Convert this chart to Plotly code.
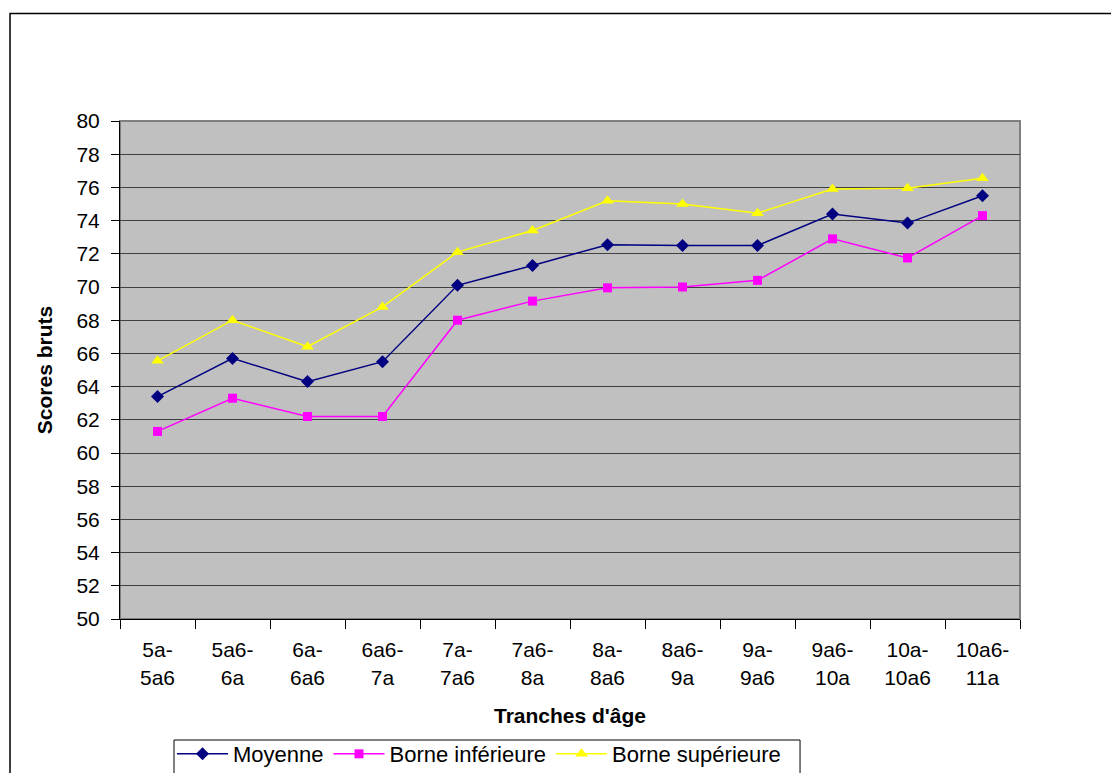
import plotly.graph_objects as go

categories = ["5a-<br>5a6", "5a6-<br>6a", "6a-<br>6a6", "6a6-<br>7a", "7a-<br>7a6", "7a6-<br>8a",
              "8a-<br>8a6", "8a6-<br>9a", "9a-<br>9a6", "9a6-<br>10a", "10a-<br>10a6", "10a6-<br>11a"]
moyenne = [63.4, 65.7, 64.3, 65.5, 70.1, 71.3, 72.55, 72.5, 72.5, 74.4, 73.85, 75.5]
borne_inf = [61.3, 63.3, 62.2, 62.2, 68.0, 69.15, 69.95, 70.0, 70.4, 72.9, 71.75, 74.3]
borne_sup = [65.55, 68.0, 66.4, 68.8, 72.1, 73.4, 75.2, 75.0, 74.45, 75.9, 75.95, 76.55]
y_ticks = list(range(50, 81, 2))

font = "Liberation Sans, Arial, sans-serif"
fig = go.Figure()
fig.add_trace(go.Scatter(x=categories, y=moyenne, name="Moyenne", mode="lines+markers",
                         line=dict(color="#000080", width=1.5),
                         marker=dict(symbol="diamond", size=10, color="#000080")))
fig.add_trace(go.Scatter(x=categories, y=borne_inf, name="Borne inférieure", mode="lines+markers",
                         line=dict(color="#FF00FF", width=1.5),
                         marker=dict(symbol="square", size=9, color="#FF00FF")))
fig.add_trace(go.Scatter(x=categories, y=borne_sup, name="Borne supérieure", mode="lines+markers",
                         line=dict(color="#FFFF00", width=1.5),
                         marker=dict(symbol="triangle-up", size=11, color="#FFFF00")))

fig.update_layout(
    width=1111, height=773,
    margin=dict(l=120, r=91, t=121, b=154, autoexpand=False),
    paper_bgcolor="white", plot_bgcolor="#C0C0C0",
    font=dict(family=font, size=21, color="black"),
    showlegend=True,
    legend=dict(orientation="h", xref="container", yref="container",
                x=0.1548, y=0.0517, xanchor="left", yanchor="top",
                borderwidth=0, bgcolor="rgba(0,0,0,0)",
                font=dict(family=font, size=22), itemwidth=51, tracegroupgap=0),
    xaxis=dict(type="category", range=[-0.5, 11.5], showgrid=False, ticks="outside",
               tickson="boundaries", ticklen=9, tickcolor="black", showline=True,
               linecolor="black", linewidth=1, mirror=False, automargin=False,
               tickfont=dict(size=21), ticklabelstandoff=12,
               title=dict(text="<b>Tranches d'âge</b>", font=dict(size=21), standoff=20)),
    yaxis=dict(range=[50, 80], tickvals=y_ticks, showgrid=True, gridcolor="#404040",
               gridwidth=1, ticks="outside", ticklen=8, tickcolor="black",
               showline=True, linecolor="black", linewidth=1, zeroline=False,
               automargin=False, tickfont=dict(size=21), ticklabelstandoff=7,
               title=dict(text="<b>Scores bruts</b>", font=dict(size=21), standoff=18)),
)
# plot area border (right/top) in gray
fig.add_shape(type="rect", xref="paper", yref="paper", x0=0, y0=0, x1=1, y1=1,
              line=dict(color="#808080", width=2), layer="below")
# legend box
fig.add_shape(type="rect", xref="paper", yref="paper", x0=0.06, y0=-0.4, x1=0.7556, y1=-0.243,
              line=dict(color="black", width=1), fillcolor="white", layer="below")
# outer chart border
fig.add_shape(type="rect", xref="paper", yref="paper", x0=-0.1222, y0=-0.5, x1=1.3, y1=1.2159,
              line=dict(color="black", width=1.5))
fig.write_html("out.html")
